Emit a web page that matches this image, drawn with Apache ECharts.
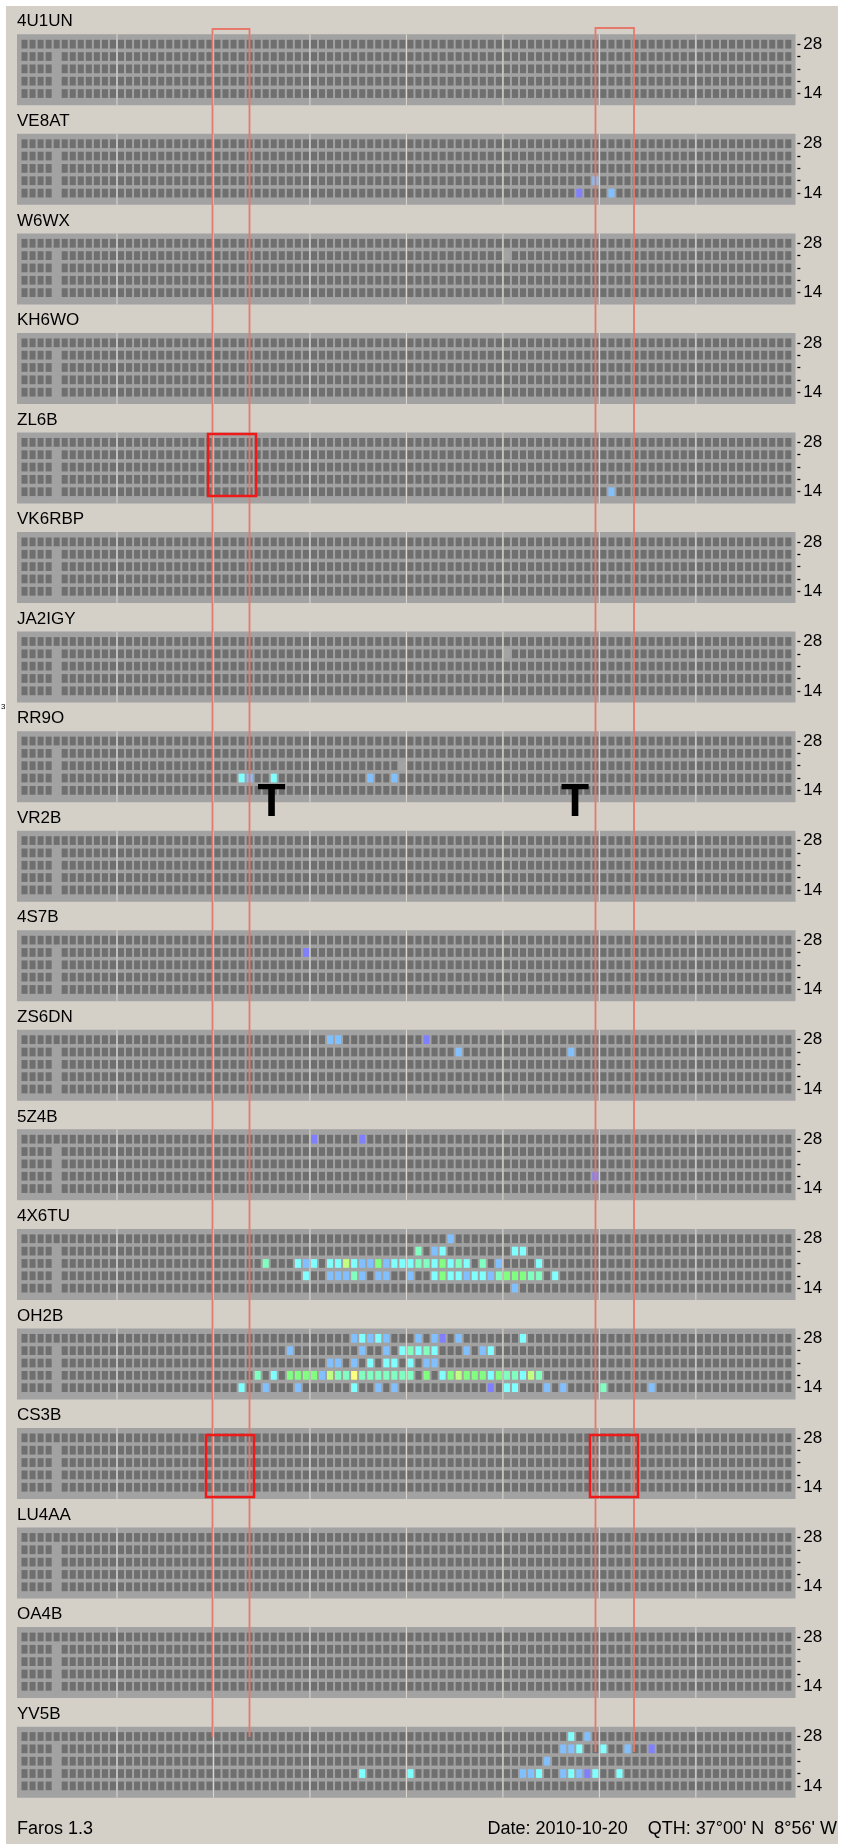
<!DOCTYPE html>
<html>
<head>
<meta charset="utf-8">
<title>Faros 1.3</title>
<script src="https://cdn.jsdelivr.net/npm/echarts@6/dist/echarts.min.js"></script>
<style>
html, body { margin: 0; padding: 0; background: #fff; }
#faros_chart { width: 844px; height: 1844px; }
</style>
</head>
<body>
<div id="faros_chart"></div>
<script>
// beacons, top to bottom
const stations = ['4U1UN', 'VE8AT', 'W6WX', 'KH6WO', 'ZL6B', 'VK6RBP', 'JA2IGY', 'RR9O', 'VR2B',
  '4S7B', 'ZS6DN', '5Z4B', '4X6TU', 'OH2B', 'CS3B', 'LU4AA', 'OA4B', 'YV5B'];
// bands (MHz), bottom to top
const bands = ['14', '18', '21', '24', '28'];
// 96 time slots (15 min each)
const slots = [];
for (let i = 0; i < 96; i++) slots.push(String(i));
const gapSlot = 4; // column with no data on 14-24

// [slot, band, level]  level: 0 = grey, 1 violet .. 7 yellow
const sig_VE8AT = [[71, '18', 2], [69, '14', 1], [73, '14', 2]];
const sig_W6WX = [[60, '24', 0]];
const sig_ZL6B = [[73, '14', 2]];
const sig_JA2IGY = [[60, '24', 0]];
const sig_RR9O = [[47, '21', 0], [27, '18', 3], [28, '18', 2], [31, '18', 3], [43, '18', 2], [46, '18', 2]];
const sig_4S7B = [[35, '24', 1]];
const sig_ZS6DN = [[38, '28', 2], [39, '28', 2], [50, '28', 1], [54, '24', 2], [68, '24', 2]];
const sig_5Z4B = [[36, '28', 1], [42, '28', 1], [71, '18', 1]];
const sig_4X6TU = [
  [53, '28', 2],
  [49, '24', 4], [51, '24', 2], [52, '24', 3], [61, '24', 3], [62, '24', 3],
  [30, '21', 4], [34, '21', 3], [35, '21', 2], [36, '21', 3], [38, '21', 3], [39, '21', 3], [40, '21', 6],
  [41, '21', 3], [42, '21', 2], [43, '21', 2], [44, '21', 5], [45, '21', 2], [46, '21', 3], [47, '21', 3],
  [48, '21', 3], [49, '21', 4], [50, '21', 4], [51, '21', 3], [52, '21', 5], [53, '21', 3], [54, '21', 4],
  [55, '21', 3], [57, '21', 4], [59, '21', 2], [64, '21', 3],
  [35, '18', 3], [38, '18', 2], [39, '18', 2], [40, '18', 2], [41, '18', 4], [42, '18', 2], [44, '18', 2],
  [45, '18', 2], [48, '18', 2], [51, '18', 3], [52, '18', 5], [53, '18', 3], [54, '18', 3], [55, '18', 2],
  [56, '18', 3], [57, '18', 3], [58, '18', 2], [59, '18', 4], [60, '18', 5], [61, '18', 5], [62, '18', 5],
  [63, '18', 4], [64, '18', 4], [66, '18', 3],
  [61, '14', 2]
];
const sig_OH2B = [
  [41, '28', 2], [42, '28', 3], [43, '28', 2], [44, '28', 3], [45, '28', 2], [49, '28', 2], [51, '28', 2],
  [52, '28', 1], [54, '28', 2], [62, '28', 3],
  [33, '24', 2], [42, '24', 2], [45, '24', 2], [47, '24', 3], [48, '24', 4], [49, '24', 3], [50, '24', 4],
  [51, '24', 3], [55, '24', 2], [57, '24', 2], [58, '24', 3],
  [38, '21', 2], [39, '21', 2], [41, '21', 2], [43, '21', 3], [45, '21', 3], [46, '21', 3], [48, '21', 3],
  [50, '21', 2], [51, '21', 2],
  [29, '18', 4], [31, '18', 3], [33, '18', 5], [34, '18', 5], [35, '18', 5], [36, '18', 5], [37, '18', 2],
  [38, '18', 6], [39, '18', 4], [40, '18', 4], [41, '18', 7], [42, '18', 4], [43, '18', 4], [44, '18', 4],
  [45, '18', 4], [46, '18', 4], [47, '18', 4], [48, '18', 4], [50, '18', 5], [52, '18', 3], [53, '18', 5],
  [54, '18', 6], [55, '18', 5], [56, '18', 5], [57, '18', 5], [58, '18', 3], [59, '18', 5], [60, '18', 4],
  [61, '18', 4], [62, '18', 3], [63, '18', 6], [64, '18', 4],
  [27, '14', 3], [30, '14', 2], [34, '14', 2], [41, '14', 3], [44, '14', 2], [46, '14', 2], [58, '14', 1],
  [60, '14', 3], [61, '14', 3], [65, '14', 2], [67, '14', 2], [72, '14', 4], [78, '14', 2]
];
const sig_YV5B = [
  [68, '28', 3], [70, '28', 2],
  [67, '24', 2], [68, '24', 2], [69, '24', 3], [72, '24', 3], [75, '24', 2], [78, '24', 1],
  [65, '21', 2],
  [42, '18', 3], [48, '18', 3], [62, '18', 2], [63, '18', 2], [64, '18', 3], [67, '18', 2], [68, '18', 3],
  [69, '18', 2], [70, '18', 1], [71, '18', 3], [74, '18', 3]
];
const signals = {
  VE8AT: sig_VE8AT, W6WX: sig_W6WX, ZL6B: sig_ZL6B, JA2IGY: sig_JA2IGY, RR9O: sig_RR9O,
  '4S7B': sig_4S7B, ZS6DN: sig_ZS6DN, '5Z4B': sig_5Z4B, '4X6TU': sig_4X6TU, OH2B: sig_OH2B, YV5B: sig_YV5B
};

// colours
const emptyColor = '#6f6f6f';
const levelColors = ['#a3a3a3', '#8080ff', '#80c0ff', '#80ffff', '#80ffc0', '#80ff80', '#c0ff80', '#ffff80'];

// layout
const firstTop = 34.3, pitchY = 99.55, outerH = 71;
const gridLeft = 20.5, colW = 8.04;

function panelData(sig) {
  const lit = {};
  (sig || []).forEach(function (s) { lit[s[0] + '_' + s[1]] = s[2]; });
  const out = [];
  slots.forEach(function (x, xi) {
    bands.forEach(function (b, bi) {
      if (xi === gapSlot && b !== '28') return;
      const k = xi + '_' + b;
      out.push([xi, bi, k in lit ? lit[k] : -1]);
    });
  });
  return out;
}

function renderCell(params, api) {
  const p = api.coord([api.value(0), api.value(1)]);
  const s = api.size([1, 1]);
  const lv = api.value(2);
  return {
    type: 'rect',
    shape: { x: p[0] - s[0] / 2 + 1, y: p[1] - s[1] / 2 + 1.8, width: s[0] - 2, height: s[1] - 3.6 },
    style: { fill: lv < 0 ? emptyColor : levelColors[lv] }
  };
}

const grids = [], xAxes = [], yAxes = [], series = [], graphics = [];

// window background
graphics.push({ type: 'rect', z: -10, shape: { x: 6, y: 6, width: 832, height: 1838 }, style: { fill: '#d4d0c8' } });

stations.forEach(function (name, i) {
  const top = firstTop + pitchY * i;
  grids.push({ left: gridLeft, width: colW * 96, top: top + 3.7, height: 61.7 });
  xAxes.push({ gridIndex: i, type: 'category', data: slots, show: false });
  yAxes.push({
    gridIndex: i, type: 'category', data: bands, position: 'right', offset: 5,
    axisLine: { show: false },
    axisTick: { show: true, alignWithLabel: true, interval: 0, length: 3, lineStyle: { color: '#000', width: 1.3 } },
    axisLabel: {
      interval: 0, margin: 6, color: '#000', fontSize: 17, fontFamily: 'Liberation Sans',
      formatter: function (v) { return (v === '14' || v === '28') ? v : ''; }
    },
    splitLine: { show: false }
  });
  series.push({
    type: 'custom', xAxisIndex: i, yAxisIndex: i, silent: true, clip: false,
    renderItem: renderCell, encode: { x: 0, y: 1 },
    data: panelData(signals[name])
  });
  // grey frame behind the cells
  graphics.push({ type: 'rect', z: -5, shape: { x: 17, y: top, width: 778.5, height: outerH }, style: { fill: '#a2a2a2' } });
  // 3-hour separators
  for (let k = 1; k < 8; k++) {
    const sx = gridLeft + 12 * k * colW;
    graphics.push({ type: 'line', z: 5, shape: { x1: sx, y1: top, x2: sx, y2: top + outerH }, style: { stroke: '#dedad2', lineWidth: 1 } });
  }
  graphics.push({
    type: 'text', z: 5, x: 17, y: top - 12.5,
    style: { text: name, fill: '#000', font: '17px "Liberation Sans"', textAlign: 'left', textVerticalAlign: 'middle' }
  });
});

// hand drawn marks on the screenshot
const thin = { stroke: '#e57a6c', lineWidth: 1.8, fill: null };
const bold = { stroke: '#ee1a1a', lineWidth: 2.5, fill: null };
graphics.push(
  { type: 'polyline', z: 20, shape: { points: [[212.5, 1737], [212.5, 29], [249.5, 29], [249.5, 1737]] }, style: thin },
  { type: 'polyline', z: 20, shape: { points: [[595.5, 1752], [595.5, 28], [634, 28], [634, 1752]] }, style: thin },
  { type: 'rect', z: 21, shape: { x: 208, y: 434, width: 48, height: 62 }, style: bold },
  { type: 'rect', z: 21, shape: { x: 206, y: 1435, width: 48, height: 62 }, style: bold },
  { type: 'rect', z: 21, shape: { x: 590, y: 1435, width: 48, height: 62 }, style: bold },
  { type: 'text', z: 22, x: 271.5, y: 803, style: { text: 'T', fill: '#000', font: 'bold 46px "Liberation Sans"', textAlign: 'center', textVerticalAlign: 'middle' } },
  { type: 'text', z: 22, x: 575, y: 803, style: { text: 'T', fill: '#000', font: 'bold 46px "Liberation Sans"', textAlign: 'center', textVerticalAlign: 'middle' } },
  { type: 'text', z: 22, x: 1, y: 707, style: { text: '3', fill: '#000', font: '8px "Liberation Sans"', textAlign: 'left', textVerticalAlign: 'middle' } },
  { type: 'text', z: 5, x: 17, y: 1829, style: { text: 'Faros 1.3', fill: '#000', font: '18px "Liberation Sans"', textAlign: 'left', textVerticalAlign: 'middle' } },
  { type: 'text', z: 5, x: 837, y: 1829, style: { text: "Date: 2010-10-20    QTH: 37°00' N  8°56' W", fill: '#000', font: '18px "Liberation Sans"', textAlign: 'right', textVerticalAlign: 'middle' } }
);

const chart = echarts.init(document.getElementById('faros_chart'));
chart.setOption({
  animation: false,
  grid: grids,
  xAxis: xAxes,
  yAxis: yAxes,
  series: series,
  graphic: graphics
});
</script>
</body>
</html>
